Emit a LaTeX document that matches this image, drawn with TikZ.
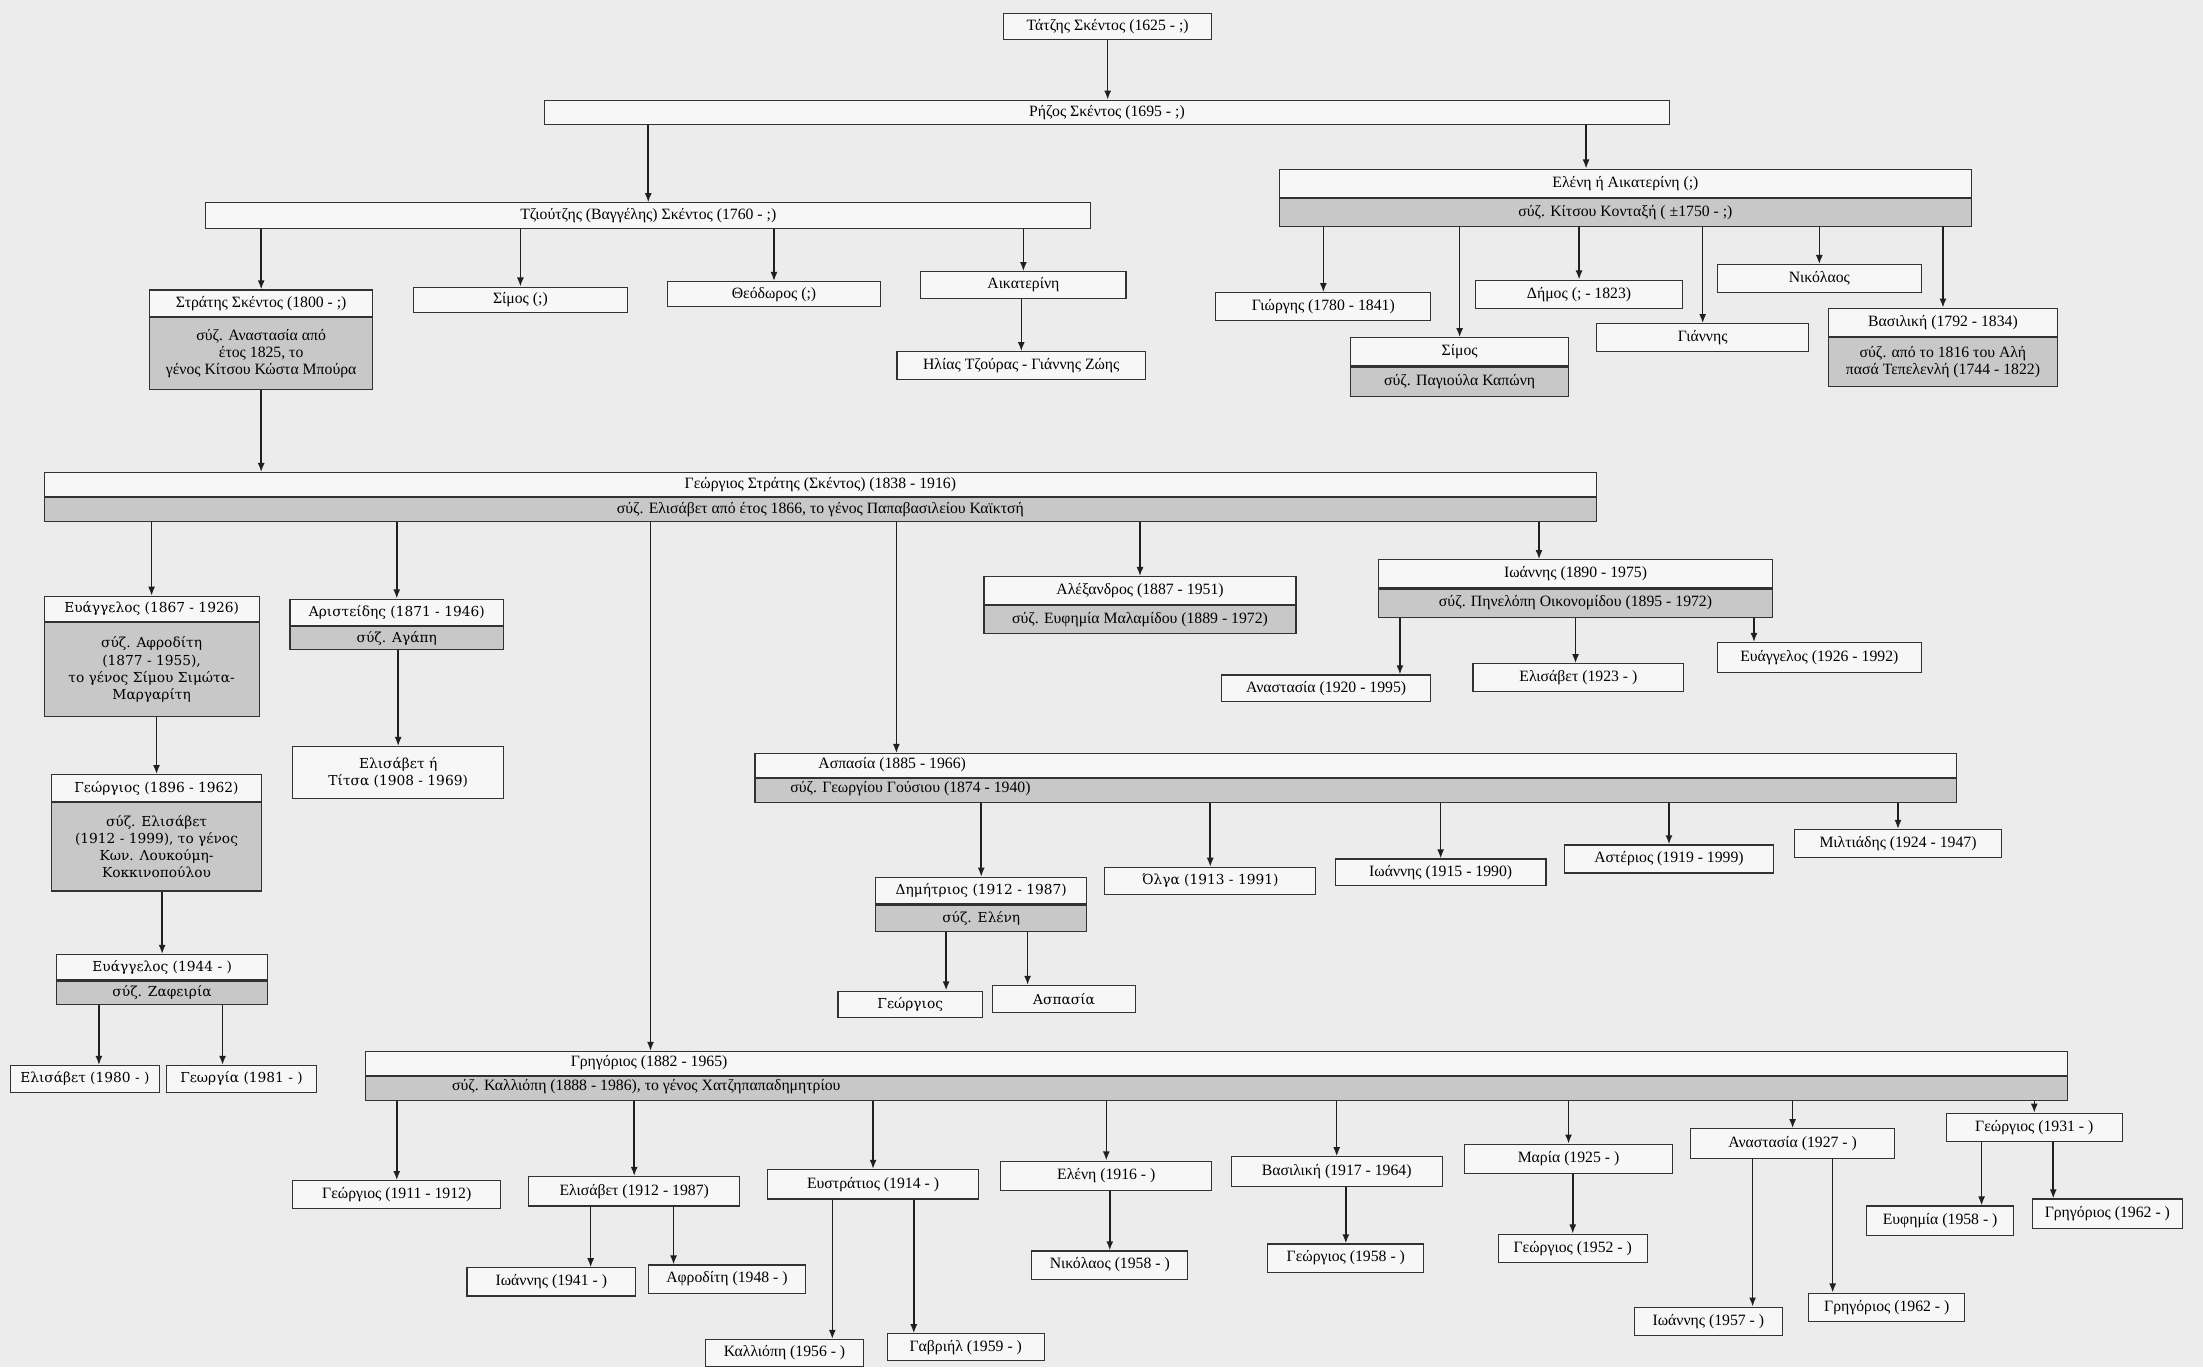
\documentclass[tikz,border=0pt]{standalone}
\usepackage{fontspec}
\setmainfont{Liberation Serif}
\newfontfamily\widefont{DejaVu Serif}
\usetikzlibrary{arrows.meta}
\definecolor{bgc}{RGB}{236,236,236}
\definecolor{boxw}{RGB}{247,247,247}
\definecolor{boxg}{RGB}{200,200,200}
\definecolor{bordc}{RGB}{50,50,50}
\tikzset{
  pbox/.style={draw=bordc, fill=boxw, line width=0.8pt, inner sep=1pt, anchor=north west,
    font=\fontsize{11.2}{12.3}\selectfont, align=center},
  sbox/.style={pbox, fill=boxg},
  wbox/.style={pbox, font=\widefont\fontsize{9.8}{12.3}\selectfont},
  wsbox/.style={wbox, fill=boxg},
  txt/.style={inner sep=0pt, font=\fontsize{11.2}{12.3}\selectfont},
  arr/.style={-{Latex[length=6.5pt,width=5pt]}, line width=1.1pt, draw=black!88}
}
\begin{document}
\begin{tikzpicture}[x=1pt,y=-1pt]
\fill[bgc] (0,0) rectangle (1568,973);
\useasboundingbox (0,0) rectangle (1568,973);

% ---- generation 0-2
\node[pbox,minimum width=148pt,minimum height=19pt] (tatzis) at (714,9) {Τάτζης Σκέντος (1625 - ;)};
\node[pbox,minimum width=801pt,minimum height=17pt] (rizos) at (387,71) {Ρήζος Σκέντος (1695 - ;)};
\node[pbox,minimum width=630pt,minimum height=18pt] (tziou) at (146,144) {Τζιούτζης (Βαγγέλης) Σκέντος (1760 - ;)};
\node[pbox,minimum width=493pt,minimum height=20pt] (eleni) at (910,120) {Ελένη ή Αικατερίνη (;)};
\node[sbox,minimum width=493pt,minimum height=20pt] (eleniS) at (eleni.south west) {σύζ. Κίτσου Κονταξή ( ±1750 - ;)};

% ---- children of Tzioutzis
\node[pbox,minimum width=159pt,minimum height=19pt] (stratis) at (106,206) {Στράτης Σκέντος (1800 - ;)};
\node[sbox,minimum width=159pt,minimum height=51pt] (stratisS) at (stratis.south west) {σύζ. Αναστασία από\\έτος 1825, το\\γένος Κίτσου Κώστα Μπούρα};
\node[pbox,minimum width=152pt,minimum height=18pt] (simosA) at (294,204) {Σίμος (;)};
\node[pbox,minimum width=151pt,minimum height=18pt] (theod) at (475,200) {Θεόδωρος (;)};
\node[pbox,minimum width=146pt,minimum height=19pt] (aikat) at (655,193) {Αικατερίνη};
\node[pbox,minimum width=177pt,minimum height=20pt] (ilias) at (638,250) {Ηλίας Τζούρας - Γιάννης Ζώης};

% ---- children of Eleni
\node[pbox,minimum width=153pt,minimum height=20pt] (giorgis) at (865,208) {Γιώργης (1780 - 1841)};
\node[pbox,minimum width=155pt,minimum height=20pt] (simosB) at (961,240) {Σίμος};
\node[sbox,minimum width=155pt,minimum height=21pt] (simosBS) at (simosB.south west) {σύζ. Παγιούλα Καπώνη};
\node[pbox,minimum width=147pt,minimum height=20pt] (dimos) at (1050,199) {Δήμος (; - 1823)};
\node[pbox,minimum width=151pt,minimum height=20pt] (giannis) at (1136,230) {Γιάννης};
\node[pbox,minimum width=145pt,minimum height=20pt] (nikol) at (1222,188) {Νικόλαος};
\node[pbox,minimum width=163pt,minimum height=20pt] (vasil) at (1301,219) {Βασιλική (1792 - 1834)};
\node[sbox,minimum width=163pt,minimum height=35pt] (vasilS) at (vasil.south west) {σύζ. από το 1816 του Αλή\\πασά Τεπελενλή (1744 - 1822)};

% ---- Georgios Stratis
\node[pbox,minimum width=1105pt,minimum height=17pt] (gs) at (31,336) {Γεώργιος Στράτης (Σκέντος) (1838 - 1916)};
\node[sbox,minimum width=1105pt,minimum height=17pt] (gsS) at (gs.south west) {σύζ. Ελισάβετ από έτος 1866, το γένος Παπαβασιλείου Καϊκτσή};

% ---- left branch
\node[wbox,minimum width=153pt,minimum height=18pt] (ev67) at (31,424) {Ευάγγελος (1867 - 1926)};
\node[wsbox,minimum width=153pt,minimum height=67pt] (ev67S) at (ev67.south west) {σύζ. Αφροδίτη\\(1877 - 1955),\\το γένος Σίμου Σιμώτα-\\Μαργαρίτη};
\node[wbox,minimum width=152pt,minimum height=19pt] (arist) at (206,426) {Αριστείδης (1871 - 1946)};
\node[wsbox,minimum width=152pt,minimum height=16pt] (aristS) at (arist.south west) {σύζ. Αγάπη};
\node[wbox,minimum width=150pt,minimum height=37pt] (elis08) at (208,531) {Ελισάβετ ή\\Τίτσα (1908 - 1969)};
\node[wbox,minimum width=150pt,minimum height=19pt] (ge96) at (36,551) {Γεώργιος (1896 - 1962)};
\node[wsbox,minimum width=150pt,minimum height=63pt] (ge96S) at (ge96.south west) {σύζ. Ελισάβετ\\(1912 - 1999), το γένος\\Κων. Λουκούμη-\\Κοκκινοπούλου};
\node[wbox,minimum width=150pt,minimum height=18pt] (ev44) at (40,679) {Ευάγγελος (1944 - )};
\node[wsbox,minimum width=150pt,minimum height=17pt] (ev44S) at (ev44.south west) {σύζ. Ζαφειρία};
\node[wbox,minimum width=106pt,minimum height=19pt] (el80) at (7,758) {Ελισάβετ (1980 - )};
\node[wbox,minimum width=107pt,minimum height=19pt] (geo81) at (118,758) {Γεωργία (1981 - )};

% ---- Alexandros, Ioannis
\node[pbox,minimum width=222pt,minimum height=20pt] (alex) at (700,410) {Αλέξανδρος (1887 - 1951)};
\node[sbox,minimum width=222pt,minimum height=20pt] (alexS) at (alex.south west) {σύζ. Ευφημία Μαλαμίδου (1889 - 1972)};
\node[pbox,minimum width=280pt,minimum height=20pt] (ioa90) at (981,398) {Ιωάννης (1890 - 1975)};
\node[sbox,minimum width=280pt,minimum height=20pt] (ioa90S) at (ioa90.south west) {σύζ. Πηνελόπη Οικονομίδου (1895 - 1972)};
\node[pbox,minimum width=149pt,minimum height=19pt] (anast20) at (869,480) {Αναστασία (1920 - 1995)};
\node[pbox,minimum width=150pt,minimum height=20pt] (elis23) at (1048,472) {Ελισάβετ (1923 - )};
\node[pbox,minimum width=145pt,minimum height=21pt] (evag26) at (1222,457) {Ευάγγελος (1926 - 1992)};

% ---- Aspasia
\node[pbox,minimum width=855pt,minimum height=17pt] (asp) at (537,536) {};
\node[sbox,minimum width=855pt,minimum height=17pt] (aspS) at (asp.south west) {};
\node[txt] (aspT) at (635,544.5) {Ασπασία (1885 - 1966)};
\node[txt] (aspST) at (648,561.5) {σύζ. Γεωργίου Γούσιου (1874 - 1940)};
\node[wbox,minimum width=150pt,minimum height=19pt] (dimitr) at (623,624) {Δημήτριος (1912 - 1987)};
\node[wsbox,minimum width=150pt,minimum height=19pt] (dimitrS) at (dimitr.south west) {σύζ. Ελένη};
\node[wbox,minimum width=150pt,minimum height=19pt] (olga) at (786,617) {Όλγα (1913 - 1991)};
\node[pbox,minimum width=150pt,minimum height=19pt] (ioa15) at (950,611) {Ιωάννης (1915 - 1990)};
\node[pbox,minimum width=149pt,minimum height=20pt] (aster) at (1113,601) {Αστέριος (1919 - 1999)};
\node[pbox,minimum width=147pt,minimum height=20pt] (milt) at (1277,590) {Μιλτιάδης (1924 - 1947)};
\node[wbox,minimum width=103pt,minimum height=19pt] (geoD) at (596,705) {Γεώργιος};
\node[wbox,minimum width=102pt,minimum height=19pt] (aspD) at (706,701) {Ασπασία};

% ---- Grigorios
\node[pbox,minimum width=1211pt,minimum height=17pt] (grig) at (260,748) {};
\node[sbox,minimum width=1211pt,minimum height=17pt] (grigS) at (grig.south west) {};
\node[txt] (grigT) at (462,756.5) {Γρηγόριος (1882 - 1965)};
\node[txt] (grigST) at (460,773.5) {σύζ. Καλλιόπη (1888 - 1986), το γένος Χατζηπαπαδημητρίου};
\node[pbox,minimum width=148pt,minimum height=20pt] (geo11) at (208,840) {Γεώργιος (1911 - 1912)};
\node[pbox,minimum width=150pt,minimum height=21pt] (elis12) at (376,837) {Ελισάβετ (1912 - 1987)};
\node[pbox,minimum width=150pt,minimum height=21pt] (evstr) at (546,832) {Ευστράτιος (1914 - )};
\node[pbox,minimum width=150pt,minimum height=21pt] (eleni16) at (712,826) {Ελένη (1916 - )};
\node[pbox,minimum width=150pt,minimum height=21pt] (vas17) at (876,823) {Βασιλική (1917 - 1964)};
\node[pbox,minimum width=148pt,minimum height=21pt] (maria) at (1042,814) {Μαρία (1925 - )};
\node[pbox,minimum width=145pt,minimum height=21pt] (anast27) at (1203,803) {Αναστασία (1927 - )};
\node[pbox,minimum width=125pt,minimum height=20pt] (geo31) at (1385,792) {Γεώργιος (1931 - )};
\node[pbox,minimum width=120pt,minimum height=20pt] (ioa41) at (332,902) {Ιωάννης (1941 - )};
\node[pbox,minimum width=112pt,minimum height=20pt] (afrod) at (461,900) {Αφροδίτη (1948 - )};
\node[pbox,minimum width=112pt,minimum height=19pt] (kall) at (502,953) {Καλλιόπη (1956 - )};
\node[pbox,minimum width=112pt,minimum height=19pt] (gavr) at (631,949) {Γαβριήλ (1959 - )};
\node[pbox,minimum width=111pt,minimum height=20pt] (nik58) at (734,890) {Νικόλαος (1958 - )};
\node[pbox,minimum width=111pt,minimum height=20pt] (geo58) at (902,885) {Γεώργιος (1958 - )};
\node[pbox,minimum width=106pt,minimum height=20pt] (geo52) at (1066,878) {Γεώργιος (1952 - )};
\node[pbox,minimum width=105pt,minimum height=20pt] (ioa57) at (1163,930) {Ιωάννης (1957 - )};
\node[pbox,minimum width=111pt,minimum height=20pt] (grig62a) at (1287,920) {Γρηγόριος (1962 - )};
\node[pbox,minimum width=105pt,minimum height=21pt] (efim) at (1328,858) {Ευφημία (1958 - )};
\node[pbox,minimum width=107pt,minimum height=21pt] (grig62b) at (1446,853) {Γρηγόριος (1962 - )};

% ---- connectors
\draw[arr] (tatzis.south) -- (tatzis.south |- rizos.north);
\draw[arr] (tziou.north |- rizos.south) -- (tziou.north);
\draw[arr] ([xshift=-28pt]eleni.north |- rizos.south) -- ([xshift=-28pt]eleni.north);
\foreach \c in {stratis,simosA,theod,aikat}
  \draw[arr] (\c.north |- tziou.south) -- (\c.north);
\draw[arr] (ilias.north |- aikat.south) -- (ilias.north);
\draw[arr] (stratisS.south) -- (stratisS.south |- gs.north);
\foreach \c in {giorgis,simosB,dimos,giannis,nikol,vasil}
  \draw[arr] (\c.north |- eleniS.south) -- (\c.north);

\foreach \c in {ev67,arist,alex}
  \draw[arr] (\c.north |- gsS.south) -- (\c.north);
\draw[arr] ([xshift=203pt]grig.north west |- gsS.south) -- ([xshift=203pt]grig.north west);
\draw[arr] ([xshift=101pt]asp.north west |- gsS.south) -- ([xshift=101pt]asp.north west);
\draw[arr] ([xshift=-26pt]ioa90.north |- gsS.south) -- ([xshift=-26pt]ioa90.north);

\draw[arr] (ge96.north |- ev67S.south) -- (ge96.north);
\draw[arr] (elis08.north |- aristS.south) -- (elis08.north);
\draw[arr] (ev44.north |- ge96S.south) -- (ev44.north);
\draw[arr] ([xshift=-45pt]ev44S.south) -- ([xshift=-45pt]ev44S.south |- el80.north);
\draw[arr] ([xshift=43pt]ev44S.south) -- ([xshift=43pt]ev44S.south |- geo81.north);

\draw[arr] ([xshift=-125pt]ioa90S.south) -- ([xshift=-125pt]ioa90S.south |- anast20.north);
\draw[arr] (ioa90S.south) -- (ioa90S.south |- elis23.north);
\draw[arr] ([xshift=127pt]ioa90S.south) -- ([xshift=127pt]ioa90S.south |- evag26.north);

\foreach \c in {dimitr,olga,ioa15,aster,milt}
  \draw[arr] (\c.north |- aspS.south) -- (\c.north);
\draw[arr] ([xshift=-25pt]dimitrS.south) -- ([xshift=-25pt]dimitrS.south |- geoD.north);
\draw[arr] ([xshift=33pt]dimitrS.south) -- ([xshift=33pt]dimitrS.south |- aspD.north);

\foreach \c in {geo11,elis12,evstr,eleni16,vas17,maria,anast27,geo31}
  \draw[arr] (\c.north |- grigS.south) -- (\c.north);
\draw[arr] ([xshift=-31pt]elis12.south) -- ([xshift=-31pt]elis12.south |- ioa41.north);
\draw[arr] ([xshift=28pt]elis12.south) -- ([xshift=28pt]elis12.south |- afrod.north);
\draw[arr] ([xshift=-29pt]evstr.south) -- ([xshift=-29pt]evstr.south |- kall.north);
\draw[arr] ([xshift=29pt]evstr.south) -- ([xshift=29pt]evstr.south |- gavr.north);
\draw[arr] (nik58.north |- eleni16.south) -- (nik58.north);
\draw[arr] (geo58.north |- vas17.south) -- (geo58.north);
\draw[arr] (geo52.north |- maria.south) -- (geo52.north);
\draw[arr] ([xshift=-28.5pt]anast27.south) -- ([xshift=-28.5pt]anast27.south |- ioa57.north);
\draw[arr] ([xshift=28.5pt]anast27.south) -- ([xshift=28.5pt]anast27.south |- grig62a.north);
\draw[arr] ([xshift=-37.5pt]geo31.south) -- ([xshift=-37.5pt]geo31.south |- efim.north);
\draw[arr] ([xshift=13.5pt]geo31.south) -- ([xshift=13.5pt]geo31.south |- grig62b.north);
\end{tikzpicture}
\end{document}
